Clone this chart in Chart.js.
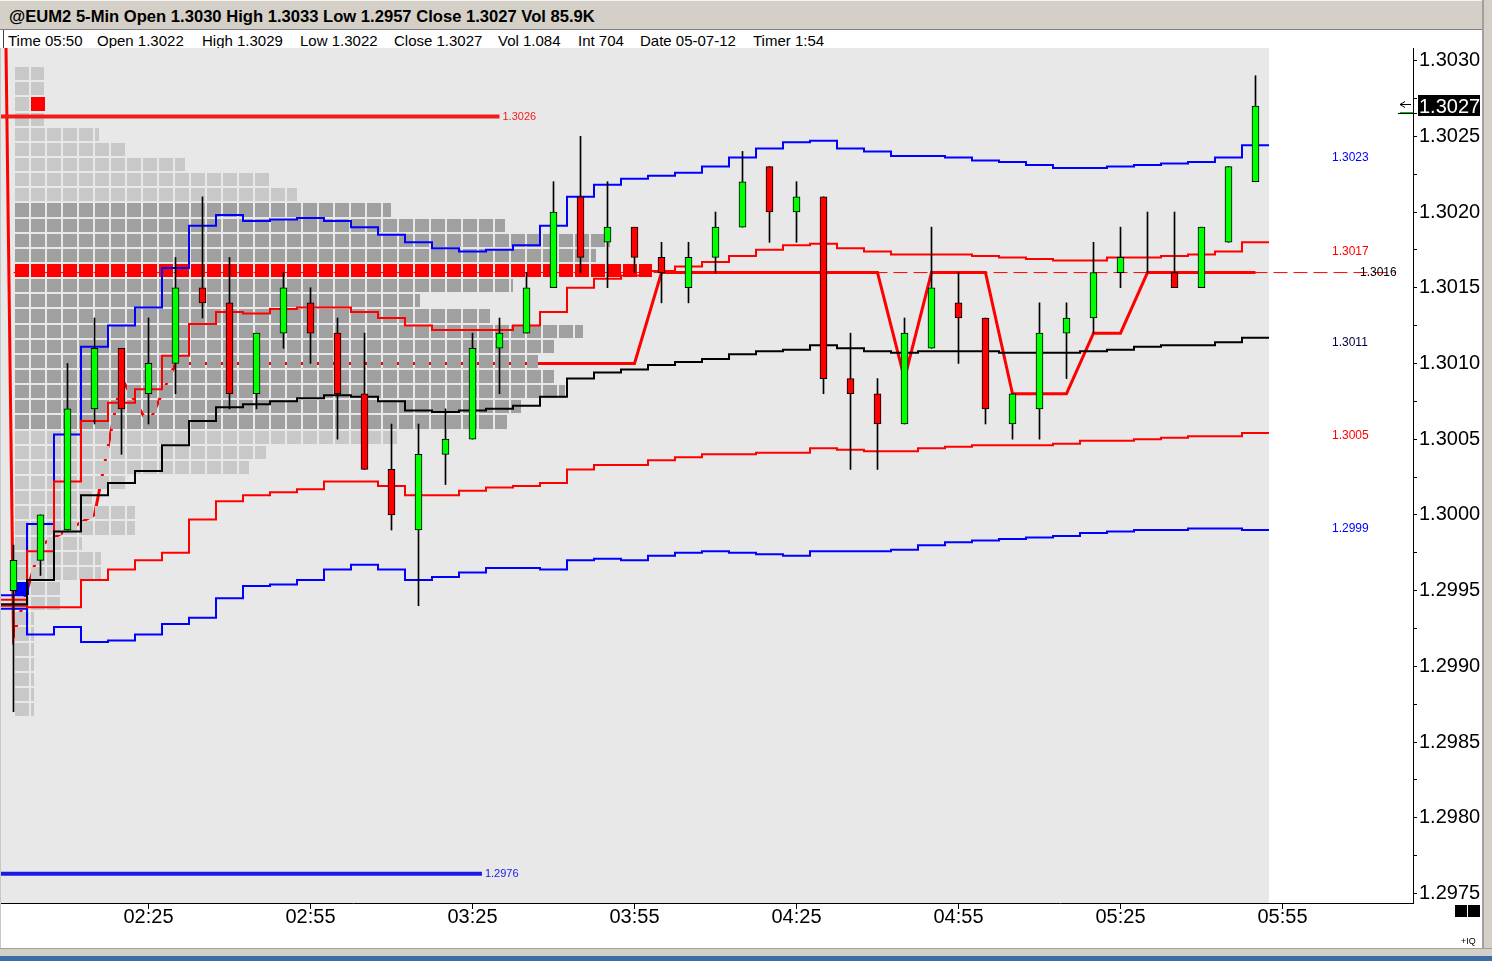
<!DOCTYPE html>
<html lang="en">
<head>
<meta charset="UTF-8">
<title>@EUM2 5-Min</title>
<script src="https://cdn.jsdelivr.net/npm/chart.js"></script>
<style>
    html, body { margin: 0; padding: 0; }
    body {
        width: 1492px; height: 961px; position: relative; overflow: hidden;
        background: #ffffff; font-family: "Liberation Sans", Arial, sans-serif; color: #000;
    }
    #titlebar {
        position: absolute; left: 0; top: 0; width: 1492px; height: 30px;
        background: #d4d0c8; border-top: 1px solid #f4f4f4; border-bottom: 1px solid #808080; box-sizing: border-box;
    }
    #titlebar span { position: absolute; left: 9px; top: 6px; font-size: 16.6px; font-weight: bold; white-space: nowrap; }
    #info { position: absolute; left: 3px; top: 30px; width: 1479px; height: 18px; border-left: 1px solid #404040; }
    #info span { position: absolute; top: 2px; font-size: 15px; line-height: 17px; white-space: nowrap; }
    #chartBox { position: absolute; left: 0; top: 48px; width: 1480px; height: 900px; }
    #leftEdge { position: absolute; left: 0; top: 48px; width: 1px; height: 900px; background: #c8c8c8; }
    #rightEdge { position: absolute; left: 1482px; top: 0; width: 10px; height: 956px; background: #d4d0c8; border-left: 2px solid #a0a0a0; box-sizing: border-box; }
    #bottomEdge { position: absolute; left: 0; top: 948px; width: 1492px; height: 8px; background: #d4d0c8; border-top: 1px solid #a0a0a0; box-sizing: border-box; }
    #taskbar { position: absolute; left: 0; top: 956px; width: 1492px; height: 5px; background: #3a6ea5; }
    .sq { position: absolute; top: 905px; width: 12px; height: 12px; background: #000; }
    #iq { position: absolute; left: 1461px; top: 936px; font-size: 9px; }
</style>
</head>
<body>
<div id="titlebar"><span>@EUM2 5-Min Open 1.3030 High 1.3033 Low 1.2957 Close 1.3027 Vol 85.9K</span></div>
<div id="info">
    <span style="left:4px">Time 05:50</span>
    <span style="left:93px">Open 1.3022</span>
    <span style="left:198px">High 1.3029</span>
    <span style="left:296px">Low 1.3022</span>
    <span style="left:390px">Close 1.3027</span>
    <span style="left:494px">Vol 1.084</span>
    <span style="left:574px">Int 704</span>
    <span style="left:636px">Date 05-07-12</span>
    <span style="left:749px">Timer 1:54</span>
</div>
<div id="chartBox"><canvas id="chart" width="1480" height="900"></canvas></div>
<div id="leftEdge"></div>
<div id="rightEdge"></div>
<div id="bottomEdge"></div>
<div id="taskbar"></div>
<div class="sq" style="left:1455px"></div>
<div class="sq" style="left:1468px"></div>
<div id="iq">+IQ</div>
<script>
    // 5-minute bars, session 02:00 .. 05:50
    const sessionStart = '02:00';
    const barTimes = [
        '02:00', '02:05', '02:10', '02:15', '02:20', '02:25', '02:30', '02:35', '02:40', '02:45', '02:50', '02:55',
        '03:00', '03:05', '03:10', '03:15', '03:20', '03:25', '03:30', '03:35', '03:40', '03:45', '03:50', '03:55',
        '04:00', '04:05', '04:10', '04:15', '04:20', '04:25', '04:30', '04:35', '04:40', '04:45', '04:50', '04:55',
        '05:00', '05:05', '05:10', '05:15', '05:20', '05:25', '05:30', '05:35', '05:40', '05:45', '05:50'
    ];
    const opens = [
        1.2995, 1.2997, 1.2999, 1.3007, 1.3011, 1.3008, 1.3010, 1.3015, 1.3014, 1.3008, 1.3012, 1.3014,
        1.3012, 1.3008, 1.3003, 1.2999, 1.3004, 1.3005, 1.3011, 1.3012, 1.3015, 1.3021, 1.3018, 1.3019,
        1.3017, 1.3015, 1.3017, 1.3019, 1.3023, 1.3020, 1.3021, 1.3009, 1.3008, 1.3006, 1.3011, 1.3014,
        1.3013, 1.3006, 1.3007, 1.3012, 1.3013, 1.3016, 1.3016, 1.3016, 1.3015, 1.3018, 1.3022
    ];
    const highs = [
        1.2998, 1.3000, 1.3010, 1.3013, 1.3011, 1.3013, 1.3017, 1.3021, 1.3017, 1.3012, 1.3016, 1.3015,
        1.3013, 1.3012, 1.3006, 1.3006, 1.3007, 1.3012, 1.3013, 1.3016, 1.3022, 1.3025, 1.3022, 1.3019,
        1.3018, 1.3018, 1.3020, 1.3024, 1.3023, 1.3022, 1.3021, 1.3012, 1.3009, 1.3013, 1.3019, 1.3016,
        1.3013, 1.3008, 1.3014, 1.3014, 1.3018, 1.3019, 1.3020, 1.3020, 1.3019, 1.3023, 1.3029
    ];
    const lows = [
        1.2987, 1.2996, 1.2999, 1.3006, 1.3004, 1.3006, 1.3008, 1.3013, 1.3007, 1.3007, 1.3011, 1.3010,
        1.3005, 1.3003, 1.2999, 1.2994, 1.3002, 1.3005, 1.3008, 1.3012, 1.3015, 1.3016, 1.3015, 1.3016,
        1.3014, 1.3014, 1.3016, 1.3019, 1.3018, 1.3018, 1.3008, 1.3003, 1.3003, 1.3006, 1.3011, 1.3010,
        1.3006, 1.3005, 1.3005, 1.3009, 1.3012, 1.3015, 1.3016, 1.3015, 1.3015, 1.3018, 1.3022
    ];
    const closes = [
        1.2997, 1.3000, 1.3007, 1.3011, 1.3007, 1.3010, 1.3015, 1.3014, 1.3008, 1.3012, 1.3015, 1.3012,
        1.3008, 1.3003, 1.3000, 1.3004, 1.3005, 1.3011, 1.3012, 1.3015, 1.3020, 1.3017, 1.3019, 1.3017,
        1.3016, 1.3017, 1.3019, 1.3022, 1.3020, 1.3021, 1.3009, 1.3008, 1.3006, 1.3012, 1.3015, 1.3013,
        1.3007, 1.3008, 1.3012, 1.3013, 1.3016, 1.3017, 1.3016, 1.3015, 1.3019, 1.3023, 1.3027
    ];

    // VWAP and deviation bands, one value per bar
    const upper2 = [
        1.29947, 1.29994, 1.30053, 1.30111, 1.30125, 1.30137, 1.30163, 1.30191, 1.30198, 1.30194, 1.30195, 1.30196,
        1.30194, 1.30190, 1.30185, 1.30180, 1.30176, 1.30174, 1.30175, 1.30178, 1.30191, 1.30210, 1.30218, 1.30222,
        1.30224, 1.30226, 1.30230, 1.30236, 1.30242, 1.30246, 1.30247, 1.30242, 1.30240, 1.30237, 1.30237, 1.30236,
        1.30234, 1.30233, 1.30231, 1.30229, 1.30229, 1.30230, 1.30231, 1.30232, 1.30233, 1.30236, 1.30244
    ];
    const upper1 = [
        1.29944, 1.29976, 1.30022, 1.30062, 1.30074, 1.30083, 1.30105, 1.30126, 1.30134, 1.30133, 1.30136, 1.30137,
        1.30137, 1.30134, 1.30130, 1.30125, 1.30122, 1.30122, 1.30122, 1.30125, 1.30134, 1.30150, 1.30156, 1.30158,
        1.30161, 1.30164, 1.30167, 1.30171, 1.30175, 1.30178, 1.30179, 1.30176, 1.30174, 1.30172, 1.30172, 1.30172,
        1.30171, 1.30170, 1.30169, 1.30168, 1.30168, 1.30170, 1.30170, 1.30171, 1.30172, 1.30174, 1.30180
    ];
    const vwap = [
        1.29941, 1.29957, 1.29989, 1.30013, 1.30021, 1.30029, 1.30046, 1.30062, 1.30071, 1.30073, 1.30075, 1.30077,
        1.30079, 1.30078, 1.30075, 1.30069, 1.30068, 1.30069, 1.30070, 1.30072, 1.30078, 1.30090, 1.30094, 1.30096,
        1.30099, 1.30101, 1.30103, 1.30106, 1.30108, 1.30109, 1.30112, 1.30110, 1.30108, 1.30107, 1.30108, 1.30108,
        1.30108, 1.30107, 1.30107, 1.30107, 1.30108, 1.30109, 1.30111, 1.30112, 1.30112, 1.30114, 1.30117
    ];
    const lower1 = [
        1.29940, 1.29939, 1.29939, 1.29957, 1.29964, 1.29970, 1.29975, 1.29997, 1.30009, 1.30013, 1.30015, 1.30017,
        1.30022, 1.30022, 1.30019, 1.30013, 1.30013, 1.30016, 1.30018, 1.30019, 1.30021, 1.30030, 1.30033, 1.30033,
        1.30036, 1.30038, 1.30040, 1.30040, 1.30041, 1.30041, 1.30044, 1.30043, 1.30042, 1.30042, 1.30044, 1.30045,
        1.30046, 1.30046, 1.30046, 1.30047, 1.30049, 1.30049, 1.30050, 1.30051, 1.30052, 1.30052, 1.30054
    ];
    const lower2 = [
        1.29938, 1.29921, 1.29926, 1.29916, 1.29917, 1.29921, 1.29928, 1.29932, 1.29945, 1.29953, 1.29954, 1.29957,
        1.29964, 1.29967, 1.29964, 1.29957, 1.29959, 1.29962, 1.29965, 1.29965, 1.29964, 1.29970, 1.29971, 1.29970,
        1.29973, 1.29975, 1.29976, 1.29975, 1.29974, 1.29973, 1.29976, 1.29976, 1.29976, 1.29977, 1.29980, 1.29982,
        1.29983, 1.29984, 1.29985, 1.29986, 1.29988, 1.29989, 1.29990, 1.29990, 1.29991, 1.29991, 1.29990
    ];
    const bandLabels = ['1.3023', '1.3017', '1.3011', '1.3005', '1.2999'];
    const bandLabelBar = 45;

    // thick red trend line, begins one bar before the session
    const trendTimes = ['01:55'].concat(barTimes);
    const trend = [
        1.3132, 1.2992, 1.2998, 1.2999, 1.3000, 1.3009, 1.3006,
        1.3010, 1.3010, 1.3010, 1.3010, 1.3010, 1.3010, 1.3010, 1.3010, 1.3010,
        1.3010, 1.3010, 1.3010, 1.3010, 1.3010, 1.3010, 1.3010, 1.3010, 1.3010,
        1.3016, 1.3016, 1.3016, 1.3016, 1.3016, 1.3016, 1.3016, 1.3016, 1.3016,
        1.3009, 1.3016, 1.3016, 1.3016, 1.3008, 1.3008, 1.3008, 1.3012, 1.3012,
        1.3016, 1.3016, 1.3016, 1.3016, 1.3016
    ];
    const trendLineEnd = '06:15:48';

    // volume profile of the session (cells per price row)
    const profilePrices = [
        1.3029, 1.3028, 1.3027, 1.3026, 1.3025, 1.3024, 1.3023, 1.3022, 1.3021, 1.3020, 1.3019,
        1.3018, 1.3017, 1.3016, 1.3015, 1.3014, 1.3013, 1.3012, 1.3011, 1.3010, 1.3009, 1.3008,
        1.3007, 1.3006, 1.3005, 1.3004, 1.3003, 1.3002, 1.3001, 1.3000, 1.2999, 1.2998, 1.2997,
        1.2996, 1.2995, 1.2994, 1.2993, 1.2992, 1.2991, 1.2990, 1.2989, 1.2988, 1.2987
    ];
    const profileCounts = [
        1.8, 1.8, 1.8, 1.8, 5.25, 6.9, 10.6, 15.9, 17.6, 23.5, 30.6,
        37.2, 36.3, 39.8, 31.1, 25.3, 29.7, 35.5, 33.7, 32.7, 33.7, 34.4,
        31.6, 30.75, 23.9, 15.7, 14.6, 7.0, 4.8, 7.5, 7.5, 4.2, 5.4,
        5.4, 2.8, 2.8, 1.2, 1.2, 1.2, 1.2, 1.2, 1.2, 1.2
    ];
    const valueAreaHigh = 1.3020;
    const valueAreaLow = 1.3006;
    const pocPrice = 1.3016;
    const markerPrices = [1.2995, 1.3027];
    const markerCells = [0, 1];
    const markerColors = ['#0000ff', '#ff0000'];

    // horizontal reference levels on the left
    const levelPrices = [1.30263, 1.29763];
    const levelLabels = ['1.3026', '1.2976'];
    const levelEnds = ['03:30', '03:26:45'];
    const levelColors = ['#f01c1c', '#1a1ae6'];

    const xTickLabels = ['02:25', '02:55', '03:25', '03:55', '04:25', '04:55', '05:25', '05:55'];
    const yTickLabels = ['1.3030', '1.3025', '1.3020', '1.3015', '1.3010', '1.3005',
                         '1.3000', '1.2995', '1.2990', '1.2985', '1.2980', '1.2975'];
    const yAxisMax = 1.303083;
    const yAxisMin = 1.297437;
    const xAxisMin = '01:57:30';
    const xAxisMax = '06:19:10';

    function toMin(s) {
        const p = s.split(':').map(Number);
        const b = sessionStart.split(':').map(Number);
        return (p[0] - b[0]) * 60 + (p[1] - b[1]) + (p[2] || 0) / 60;
    }

    const barMin = barTimes.map(toMin);
    const halfBar = (barMin[1] - barMin[0]) / 2;
    const last = barTimes.length - 1;
    const tickSize = 0.0001;

    function stepData(values) {
        const pts = values.map((v, i) => ({ x: barMin[i] - halfBar, y: v }));
        pts.push({ x: barMin[last] + halfBar, y: values[last] });
        return pts;
    }

    const bodyColors = barTimes.map((t, i) => closes[i] >= opens[i] ? '#00ff00' : '#ff0000');

    const bgPlugin = {
        id: 'plotBg',
        beforeDraw(chart) {
            const { ctx, chartArea, scales } = chart;
            const x1 = scales.x.getPixelForValue(barMin[0] - halfBar);
            const x2 = scales.x.getPixelForValue(barMin[last] + halfBar);
            ctx.save();
            ctx.fillStyle = '#e8e8e8';
            ctx.fillRect(x1, chartArea.top, x2 - x1, chartArea.bottom - chartArea.top);
            ctx.restore();
        }
    };

    const profilePlugin = {
        id: 'profile',
        afterDatasetDraw(chart, args) {
            if (chart.data.datasets[args.index].id !== 'trend') return;
            const { ctx, chartArea } = chart;
            const y = chart.scales.y;
            const x0 = chartArea.left + 15, cw = 16, gap = 2;
            const rowBox = p => {
                const top = Math.round(y.getPixelForValue(p + tickSize / 2)) - 1;
                const bot = Math.round(y.getPixelForValue(p - tickSize / 2)) - 3;
                return [top, bot - top];
            };
            ctx.save();
            profilePrices.forEach((p, i) => {
                const n = profileCounts[i];
                const [top, h] = rowBox(p);
                if (Math.abs(p - pocPrice) < 1e-7) ctx.fillStyle = '#ff0000';
                else if (p <= valueAreaHigh + 1e-7 && p >= valueAreaLow - 1e-7) ctx.fillStyle = '#a0a0a0';
                else ctx.fillStyle = '#c8c8c8';
                for (let k = 0; k < n; k++) {
                    const rest = n - k;
                    const w = rest >= 1 ? cw - gap : Math.round(rest * cw);
                    ctx.fillRect(x0 + k * cw, top, w, h);
                }
            });
            markerPrices.forEach((p, i) => {
                const [top, h] = rowBox(p);
                ctx.fillStyle = markerColors[i];
                ctx.fillRect(x0 + markerCells[i] * cw, top, cw - gap, h);
            });
            ctx.restore();
        }
    };

    const labelPlugin = {
        id: 'labels',
        afterDatasetsDraw(chart) {
            const { ctx, chartArea, scales } = chart;
            const x = scales.x, y = scales.y;
            ctx.save();
            ctx.textBaseline = 'middle';
            ctx.textAlign = 'left';

            // band labels in the right margin
            ctx.font = '12px "Liberation Sans", Arial, sans-serif';
            const bandSeries = [upper2, upper1, vwap, lower1, lower2];
            const bandColors = ['#0000ff', '#ff0000', '#000040', '#ff0000', '#0000ff'];
            bandSeries.forEach((s, i) => {
                ctx.fillStyle = bandColors[i];
                ctx.fillText(bandLabels[i], chartArea.left + 1332, y.getPixelForValue(s[bandLabelBar]));
            });
            ctx.fillStyle = '#000';
            ctx.fillText(trend[trend.length - 1].toFixed(4), chartArea.left + 1360, y.getPixelForValue(trend[trend.length - 1]));

            // level labels
            ctx.font = '11px "Liberation Sans", Arial, sans-serif';
            levelPrices.forEach((p, i) => {
                ctx.fillStyle = levelColors[i];
                ctx.fillText(levelLabels[i], x.getPixelForValue(toMin(levelEnds[i])) + 3, y.getPixelForValue(p));
            });

            // last price box on the axis
            const yp = Math.round(y.getPixelForValue(closes[last]));
            ctx.fillStyle = '#000';
            ctx.fillRect(y.left + 5, yp - 11, chart.width - y.left - 5, 21);
            ctx.fillStyle = '#fff';
            ctx.font = '20px "Liberation Sans", Arial, sans-serif';
            ctx.fillText(closes[last].toFixed(4), y.left + 6, yp + 1);

            ctx.strokeStyle = '#000';
            ctx.lineWidth = 1;
            ctx.beginPath();
            ctx.moveTo(y.left - 13, yp - 1.5);
            ctx.lineTo(y.left - 2, yp - 1.5);
            ctx.moveTo(y.left - 13, yp - 1.5);
            ctx.lineTo(y.left - 8, yp - 4.5);
            ctx.moveTo(y.left - 13, yp - 1.5);
            ctx.lineTo(y.left - 8, yp + 1.5);
            ctx.stroke();
            ctx.beginPath();
            ctx.moveTo(y.left - 15, yp + 7.5);
            ctx.lineTo(y.left + 4, yp + 7.5);
            ctx.stroke();
            ctx.strokeStyle = '#00c000';
            ctx.beginPath();
            ctx.moveTo(y.left - 13, yp + 6.5);
            ctx.lineTo(y.left, yp + 6.5);
            ctx.stroke();
            ctx.restore();
        }
    };

    const tickFont = { family: '"Liberation Sans", Arial, sans-serif', size: 20 };

    const bandStyle = (id, data, color) => ({
        type: 'line', id: id, data: stepData(data), borderColor: color, borderWidth: 2,
        stepped: true, pointRadius: 0, fill: false, order: 1
    });

    new Chart(document.getElementById('chart'), {
        type: 'line',
        data: {
            datasets: [
                {
                    type: 'bar', id: 'body',
                    data: barTimes.map((t, i) => ({ x: barMin[i], y: [opens[i], closes[i]] })),
                    backgroundColor: bodyColors, borderColor: '#000', borderWidth: 1, borderSkipped: false,
                    barThickness: 7, grouped: false, order: 0
                },
                {
                    type: 'bar', id: 'wick',
                    data: barTimes.map((t, i) => ({ x: barMin[i], y: [lows[i], highs[i]] })),
                    backgroundColor: '#000', borderWidth: 0, barThickness: 1, grouped: false, order: 0
                },
                bandStyle('vwap', vwap, '#000000'),
                bandStyle('upper1', upper1, '#ff0000'),
                bandStyle('lower1', lower1, '#ff0000'),
                bandStyle('upper2', upper2, '#0000ff'),
                bandStyle('lower2', lower2, '#0000ff'),
                {
                    type: 'line', id: 'lastTrend',
                    data: [
                        { x: barMin[0], y: trend[trend.length - 1] },
                        { x: toMin(trendLineEnd), y: trend[trend.length - 1] }
                    ],
                    borderColor: '#ff0000', borderWidth: 1, borderDash: [14, 6], pointRadius: 0,
                    clip: false, order: 2
                },
                ...levelPrices.map((p, i) => ({
                    type: 'line', id: 'level' + i,
                    data: [{ x: barMin[0] - halfBar, y: p }, { x: toMin(levelEnds[i]), y: p }],
                    borderColor: levelColors[i], borderWidth: 4, pointRadius: 0, order: 1
                })),
                {
                    type: 'line', id: 'trend',
                    data: trendTimes.map((t, i) => ({ x: toMin(t), y: trend[i] })),
                    borderColor: '#ff0000', borderWidth: 3, pointRadius: 0, order: 5
                }
            ]
        },
        options: {
            responsive: false,
            animation: false,
            devicePixelRatio: 1,
            layout: { padding: 0 },
            elements: { point: { radius: 0 }, line: { tension: 0 } },
            plugins: { legend: { display: false }, tooltip: { enabled: false } },
            scales: {
                x: {
                    type: 'linear', min: toMin(xAxisMin), max: toMin(xAxisMax), offset: false,
                    grid: { drawOnChartArea: false, drawTicks: true, tickLength: 6, color: '#000', offset: false },
                    border: { display: true, color: '#000', width: 1 },
                    ticks: {
                        autoSkip: false, maxRotation: 0, color: '#000', font: tickFont, padding: -4,
                        callback: v => xTickLabels.find(l => Math.abs(toMin(l) - v) < 1e-6) || ''
                    },
                    afterBuildTicks: s => { s.ticks = xTickLabels.map(l => ({ value: toMin(l) })); },
                    afterFit: s => { s.height = 45; s.paddingLeft = 0; s.paddingRight = 0; }
                },
                y: {
                    type: 'linear', position: 'right', min: yAxisMin, max: yAxisMax,
                    grid: { drawOnChartArea: false, drawTicks: true, tickLength: 4, color: '#000', offset: false },
                    border: { display: true, color: '#000', width: 1 },
                    ticks: {
                        color: '#000', font: tickFont, padding: 2, crossAlign: 'near',
                        callback: v => yTickLabels.find(l => Math.abs(Number(l) - v) < 1e-7) || ''
                    },
                    afterBuildTicks: s => {
                        const major = yTickLabels.map(Number).sort((a, b) => a - b);
                        const t = [];
                        major.forEach((m, i) => {
                            t.push({ value: m });
                            if (i < major.length - 1) t.push({ value: (m + major[i + 1]) / 2 });
                        });
                        s.ticks = t;
                    },
                    afterFit: s => { s.width = 67; s.paddingTop = 0; s.paddingBottom = 0; }
                }
            }
        },
        plugins: [bgPlugin, profilePlugin, labelPlugin]
    });
</script>
</body>
</html>
